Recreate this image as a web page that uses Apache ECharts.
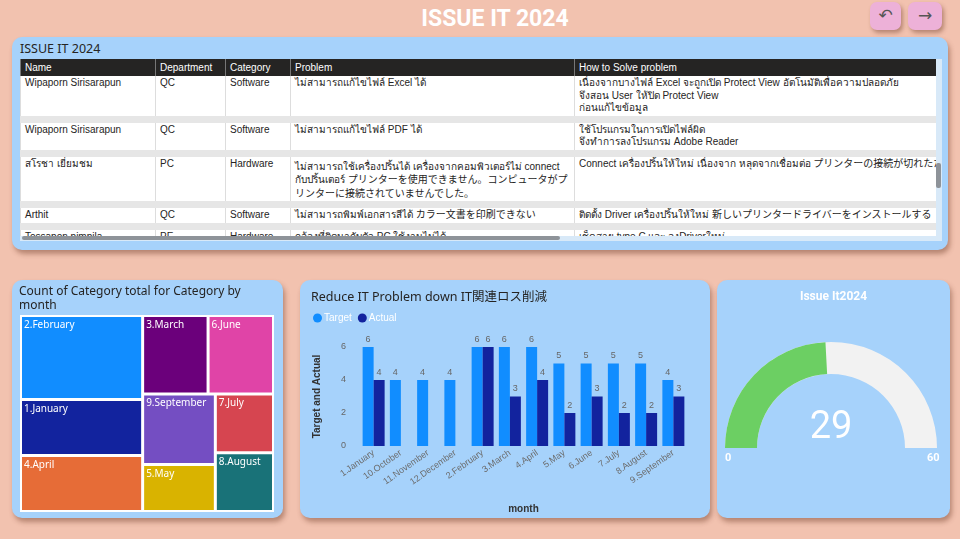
<!DOCTYPE html>
<html>
<head>
<meta charset="utf-8">
<script src="https://cdn.jsdelivr.net/npm/echarts@6/dist/echarts.min.js"></script>
<style>
  body{margin:0;width:960px;height:539px;background:#F2C2AF;overflow:hidden;position:relative;
    font-family:"Noto Sans","Noto Sans CJK JP",sans-serif;}
  .panel{position:absolute;background:#A6D2FB;border-radius:10px;box-shadow:2px 4px 5px rgba(110,60,40,0.45);}
  #pageTitle{position:absolute;left:0;width:990px;top:5px;text-align:center;color:#fff;font:bold 23px Roboto,"Noto Sans",sans-serif;}
  .btn{position:absolute;top:2px;height:28px;background:#EDB1D8;border-radius:7px;box-shadow:2px 3px 4px rgba(110,60,40,0.45);
    color:#555;font:17px "DejaVu Sans",sans-serif;text-align:center;line-height:27px;}
  #tblTitle{position:absolute;left:20px;top:40px;font-size:12.5px;color:#252423;}
  #tblWrap{position:absolute;left:20px;top:59px;width:916px;height:177px;overflow:hidden;background:#fff;}
  table{border-collapse:collapse;table-layout:fixed;width:916px;font-size:10px;color:#252423;
    font-family:"Liberation Sans","Noto Sans CJK JP",sans-serif;}
  th{background:#252423;color:#fff;font-weight:normal;text-align:left;padding:0 4px;height:17px;border-left:1px solid #777;}
  td{background:#fff;padding:1px 4px 1px;vertical-align:top;line-height:12.5px;border-left:1px solid #DDD;border-bottom:7px solid #E6E6E6;overflow:hidden;}
  td.solve{white-space:pre;}
  td.cjk{line-height:13.5px;padding-top:3px;}
  #hTrack{position:absolute;left:20px;top:236px;width:916px;height:5px;background:#D8E9F8;}
  #hThumb{position:absolute;left:22px;top:236px;width:538px;height:4px;background:#8E9399;border-radius:2px;}
  #vTrack{position:absolute;left:936px;top:59px;width:6px;height:182px;background:#D8E9F8;}
  #vThumb{position:absolute;left:936px;top:163px;width:5px;height:25px;background:#8E9399;border-radius:2px;}
  .chart{position:absolute;}
</style>
</head>
<body>
<div id="pageTitle">ISSUE IT 2024</div>
<div class="btn" style="left:870px;width:31px;">&#x21B6;</div>
<div class="btn" style="left:908px;width:34px;">&#x2192;</div>

<div class="panel" style="left:12px;top:37px;width:936px;height:213px;"></div>
<div id="tblTitle">ISSUE IT 2024</div>
<div id="tblWrap"><table id="tbl"></table></div>
<div id="hTrack"></div><div id="hThumb"></div>
<div id="vTrack"></div><div id="vThumb"></div>

<div class="panel" style="left:12px;top:280px;width:271px;height:238px;"></div>
<div class="panel" style="left:300px;top:280px;width:410px;height:238px;"></div>
<div class="panel" style="left:717px;top:280px;width:233px;height:238px;"></div>

<div id="treeChart" class="chart" style="left:12px;top:280px;width:271px;height:238px;"></div>
<div id="barChart" class="chart" style="left:300px;top:280px;width:410px;height:238px;"></div>
<div id="gaugeChart" class="chart" style="left:717px;top:280px;width:233px;height:238px;"></div>

<script>
// ตาราง ISSUE IT 2024
const columns = ['Name', 'Department', 'Category', 'Problem', 'How to Solve problem'];
const colWidths = [135, 70, 65, 284, 362];
const names = ['Wipaporn Sirisarapun', 'Wipaporn Sirisarapun', 'สโรชา เยี่ยมชม', 'Arthit', 'Tossapon pimpila'];
const departments = ['QC', 'QC', 'PC', 'QC', 'PE'];
const categories = ['Software', 'Software', 'Hardware', 'Software', 'Hardware'];
const problems = [
  'ไม่สามารถแก้ไขไฟล์ Excel ได้',
  'ไม่สามารถแก้ไขไฟล์ PDF ได้',
  'ไม่สามารถใช้เครื่องปริ้นได้ เครื่องจากคอมพิวเตอร์ไม่ connect กับปริ้นเตอร์ プリンターを使用できません。コンピュータがプリンターに接続されていませんでした。',
  'ไม่สามารถพิมพ์เอกสารสีได้ カラー文書を印刷できない',
  'กล้องที่ติดมากับตัว PC ใช้งานไม่ได้'
];
const solutions = [
  'เนื่องจากบางไฟล์ Excel จะถูกเปิด Protect View อัตโนมัติเพื่อความปลอดภัย\nจึงสอน User ให้ปิด Protect View\nก่อนแก้ไขข้อมูล',
  'ใช้โปรแกรมในการเปิดไฟล์ผิด\nจึงทำการลงโปรแกรม Adobe Reader',
  'Connect เครื่องปริ้นให้ใหม่ เนื่องจาก หลุดจากเชื่อมต่อ プリンターの接続が切れたため',
  'ติดตั้ง Driver เครื่องปริ้นให้ใหม่ 新しいプリンタードライバーをインストールする',
  'เช็คสาย type C และ ลงDriverใหม่'
];

// กราฟแท่ง Target / Actual
const months = ['1.January', '10.October', '11.November', '12.December', '2.February', '3.March',
  '4.April', '5.May', '6.June', '7.July', '8.August', '9.September'];
const target = [6, 4, 4, 4, 6, 6, 6, 5, 5, 5, 5, 4];
const actual = [4, null, null, null, 6, 3, 4, 2, 3, 2, 2, 3];

// treemap (ลำดับเดียวกับ Power BI)
const treeMonths = ['2.February', '1.January', '4.April', '3.March', '6.June', '9.September', '5.May', '7.July', '8.August'];
const treeCounts = [6, 4, 4, 3, 3, 3, 2, 2, 2];
const treeColors = ['#118DFF', '#12239E', '#E66C37', '#6B007B', '#E044A7', '#744EC2', '#D9B300', '#D64550', '#197278'];

// gauge
const gaugeValue = 29;
const gaugeMin = 0;
const gaugeMax = 60;

// สร้างตาราง
const hasCjk = s => /[\u3000-\u9fff]/.test(s);
let html = '<colgroup>' + colWidths.map(w => '<col style="width:' + w + 'px">').join('') + '</colgroup>';
html += '<tr>' + columns.map(c => '<th>' + c + '</th>').join('') + '</tr>';
for (let i = 0; i < names.length; i++) {
  const cls = hasCjk(problems[i]) && problems[i].length > 80 ? ' class="cjk"' : '';
  html += '<tr><td>' + names[i] + '</td><td>' + departments[i] + '</td><td>' + categories[i] +
    '</td><td' + cls + '>' + problems[i] + '</td><td class="solve">' + solutions[i] + '</td></tr>';
}
document.getElementById('tbl').innerHTML = html;

const txt = '#252423';

// treemap
const treeChart = echarts.init(document.getElementById('treeChart'));
treeChart.setOption({
  title: {
    text: 'Count of Category total for Category by\nmonth',
    left: 2, top: 0,
    textStyle: {fontSize: 12, fontWeight: 'normal', color: txt, lineHeight: 14, fontFamily: 'Noto Sans'}
  },
  series: [{
    type: 'treemap',
    left: 8, top: 35, width: 254, height: 197,
    roam: false, nodeClick: false, sort: false,
    breadcrumb: {show: false},
    label: {show: true, position: 'insideTopLeft', color: '#fff', fontSize: 10, fontFamily: 'Noto Sans', padding: [3, 2]},
    itemStyle: {borderColor: '#fff', borderWidth: 1, gapWidth: 1},
    data: treeMonths.map((m, i) => ({name: m, value: treeCounts[i], itemStyle: {color: treeColors[i]}}))
  }]
});

// กราฟแท่ง
const barChart = echarts.init(document.getElementById('barChart'));
const barLabel = {show: true, position: 'top', color: '#666', fontSize: 9, distance: 3};
barChart.setOption({
  title: {
    text: 'Reduce IT Problem down IT関連ロス削減',
    left: 6, top: 6,
    textStyle: {fontSize: 12.5, fontWeight: 'normal', color: txt, fontFamily: 'Noto Sans, Noto Sans CJK JP'}
  },
  legend: {
    left: 8, top: 28, icon: 'circle', itemWidth: 9, itemHeight: 9, itemGap: 6,
    textStyle: {color: '#fff', fontSize: 10, padding: [0, 0, 0, -3]},
    data: ['Target', 'Actual']
  },
  grid: {left: 60, right: 23, top: 67, bottom: 72},
  xAxis: {
    type: 'category', data: months,
    axisLine: {show: false}, axisTick: {show: false},
    axisLabel: {rotate: 35, interval: 0, color: '#6b6b6b', fontSize: 9, margin: 6},
    name: 'month', nameLocation: 'middle', nameGap: 58,
    nameTextStyle: {color: '#333', fontSize: 10, fontWeight: 'bold'}
  },
  yAxis: {
    type: 'value', min: 0, max: 6, interval: 2,
    splitLine: {show: false},
    axisLabel: {color: '#666', fontSize: 9, margin: 14},
    name: 'Target and Actual', nameLocation: 'middle', nameGap: 38,
    nameTextStyle: {color: '#333', fontSize: 10, fontWeight: 'bold'}
  },
  series: [
    {name: 'Target', type: 'bar', data: target, barWidth: 11, barGap: '0%', itemStyle: {color: '#118DFF'}, label: barLabel},
    {name: 'Actual', type: 'bar', data: actual, barWidth: 11, itemStyle: {color: '#12239E'}, label: barLabel}
  ]
});

// gauge
const gaugeChart = echarts.init(document.getElementById('gaugeChart'));
gaugeChart.setOption({
  title: {
    text: 'Issue It2024', left: 'center', top: 6,
    textStyle: {color: '#fff', fontSize: 12, fontWeight: 'bold', fontFamily: 'Roboto'}
  },
  graphic: [
    {type: 'text', left: 8, top: 173, style: {text: String(gaugeMin), fill: '#fff', font: 'bold 11px Roboto'}},
    {type: 'text', left: 210, top: 173, style: {text: String(gaugeMax), fill: '#fff', font: 'bold 11px Roboto'}}
  ],
  series: [{
    type: 'gauge',
    center: [114, 168], radius: 106,
    startAngle: 180, endAngle: 0,
    min: gaugeMin, max: gaugeMax,
    axisLine: {lineStyle: {width: 32, color: [[1, '#F2F2F2']]}},
    progress: {show: true, width: 32, itemStyle: {color: '#6CCF63'}},
    pointer: {show: false}, anchor: {show: false},
    axisTick: {show: false}, splitLine: {show: false}, axisLabel: {show: false},
    title: {show: false},
    detail: {
      valueAnimation: false, offsetCenter: [0, '-18%'],
      fontSize: 38, color: '#fff', fontWeight: 'normal', fontFamily: 'Roboto'
    },
    data: [{value: gaugeValue}]
  }]
});
</script>
</body>
</html>
